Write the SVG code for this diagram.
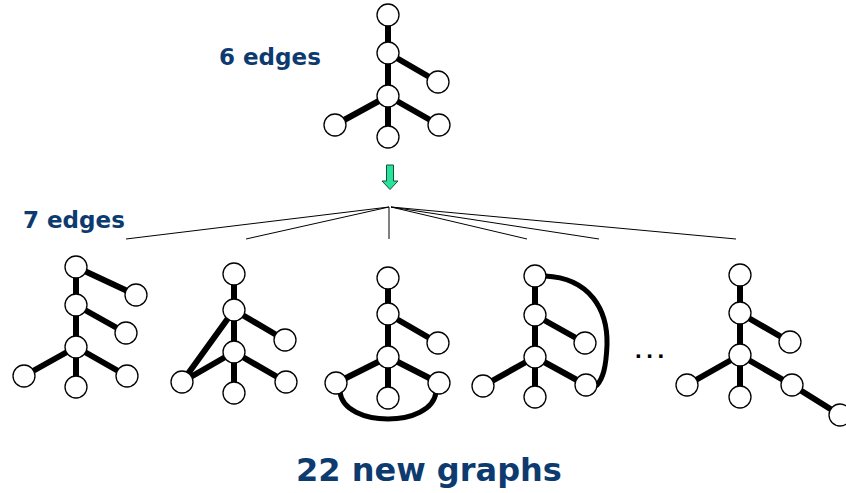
<svg xmlns="http://www.w3.org/2000/svg" width="846" height="493" viewBox="0 0 846 493">
  <style>
    .edge { stroke: #000; stroke-width: 6; fill: none; stroke-linecap: butt; }
    .curve { stroke: #000; stroke-width: 5; fill: none; stroke-linecap: round; }
    .node { fill: #fff; stroke: #000; stroke-width: 1.3; }
    .fan { stroke: #000; stroke-width: 1; fill: none; }
    .label { font-family: "DejaVu Sans", Verdana, sans-serif; font-weight: bold; fill: #0d3b70; }
  </style>
  <defs>
    <circle id="n" r="11" class="node"/>
  </defs>
  <rect width="846" height="493" fill="#fff"/>

  <!-- labels -->
  <text class="label" x="219" y="65" font-size="23">6 edges</text>
  <text class="label" x="23" y="228" font-size="23">7 edges</text>
  <text class="label" x="296" y="481" font-size="32">22 new graphs</text>

  <!-- green down arrow -->
  <g id="arrow">
    <path d="M386.5,165 H393.5 V181 H398 L390,189.5 L382,181 H386.5 Z" fill="#27e39b" stroke="#14503a" stroke-width="1"/>
  </g>

  <!-- fan of lines to each child graph -->
  <g id="connectors">
    <line class="fan" x1="389" y1="207" x2="126" y2="239"/>
    <line class="fan" x1="389" y1="207" x2="246" y2="239"/>
    <line class="fan" x1="389" y1="207" x2="389" y2="239" stroke="#777"/>
    <line class="fan" x1="391" y1="207" x2="527" y2="239"/>
    <line class="fan" x1="391" y1="207" x2="599" y2="239"/>
    <line class="fan" x1="391" y1="207" x2="736" y2="239"/>
  </g>

  <!-- parent graph, 6 edges -->
  <g id="graph-parent">
    <path class="edge" d="M388,15 L388,53 M388,53 L438,82 M388,53 L388,96 M388,96 L335,125 M388,96 L388,137 M388,96 L439,125"/>
    <use href="#n" x="388" y="15"/>
    <use href="#n" x="388" y="53"/>
    <use href="#n" x="438" y="82"/>
    <use href="#n" x="388" y="96"/>
    <use href="#n" x="335" y="125"/>
    <use href="#n" x="388" y="137"/>
    <use href="#n" x="439" y="125"/>
  </g>

  <!-- child graph 1 -->
  <g id="graph-1">
    <path class="edge" d="M76,267 L136,295 M76,267 L76,305 M76,305 L126,333 M76,305 L76,347 M76,347 L24,376 M76,347 L76,387 M76,347 L127,376"/>
    <use href="#n" x="76" y="267"/>
    <use href="#n" x="136" y="295"/>
    <use href="#n" x="76" y="305"/>
    <use href="#n" x="126" y="333"/>
    <use href="#n" x="76" y="347"/>
    <use href="#n" x="24" y="376"/>
    <use href="#n" x="76" y="387"/>
    <use href="#n" x="127" y="376"/>
  </g>

  <!-- child graph 2 -->
  <g id="graph-2">
    <path class="edge" d="M234,274 L234,310 M234,310 L285,340 M234,310 L234,352 M234,352 L182,382 M234,352 L234,393 M234,352 L286,382 M234,310 L182,382"/>
    <use href="#n" x="234" y="274"/>
    <use href="#n" x="234" y="310"/>
    <use href="#n" x="285" y="340"/>
    <use href="#n" x="234" y="352"/>
    <use href="#n" x="182" y="382"/>
    <use href="#n" x="234" y="393"/>
    <use href="#n" x="286" y="382"/>
  </g>

  <!-- child graph 3 -->
  <g id="graph-3">
    <path class="edge" d="M388,278 L388,314 M388,314 L438,343 M388,314 L388,357 M388,357 L336,383 M388,357 L388,398 M388,357 L439,383"/>
    <path class="curve" d="M340,392 C344,428 432,428 436,392"/>
    <use href="#n" x="388" y="278"/>
    <use href="#n" x="388" y="314"/>
    <use href="#n" x="438" y="343"/>
    <use href="#n" x="388" y="357"/>
    <use href="#n" x="336" y="383"/>
    <use href="#n" x="388" y="398"/>
    <use href="#n" x="439" y="383"/>
  </g>

  <!-- child graph 4 -->
  <g id="graph-4">
    <path class="edge" d="M535,276 L535,315 M535,315 L585,343 M535,315 L535,357 M535,357 L483,386 M535,357 L535,397 M535,357 L586,385"/>
    <path class="curve" d="M545,276 C590,278 608,310 607,345 C606,368 603,378 597,385"/>
    <use href="#n" x="535" y="276"/>
    <use href="#n" x="535" y="315"/>
    <use href="#n" x="585" y="343"/>
    <use href="#n" x="535" y="357"/>
    <use href="#n" x="483" y="386"/>
    <use href="#n" x="535" y="397"/>
    <use href="#n" x="586" y="385"/>
  </g>

  <!-- ellipsis -->
  <text x="635" y="358" font-family="Liberation Sans, Arial, sans-serif" font-weight="bold" font-size="24" letter-spacing="4.6" fill="#000">...</text>

  <!-- child graph 5 -->
  <g id="graph-5">
    <path class="edge" d="M740,275 L740,313 M740,313 L790,342 M740,313 L740,355 M740,355 L687,385 M740,355 L740,397 M740,355 L792,385 M792,385 L840,415"/>
    <use href="#n" x="740" y="275"/>
    <use href="#n" x="740" y="313"/>
    <use href="#n" x="790" y="342"/>
    <use href="#n" x="740" y="355"/>
    <use href="#n" x="687" y="385"/>
    <use href="#n" x="740" y="397"/>
    <use href="#n" x="792" y="385"/>
    <use href="#n" x="840" y="415"/>
  </g>
</svg>
